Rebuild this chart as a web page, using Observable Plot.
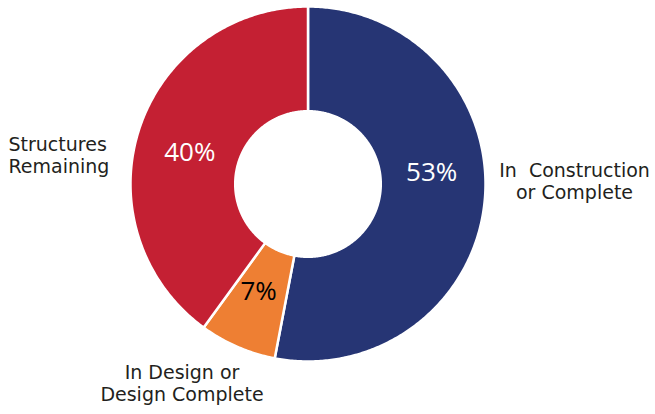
<!DOCTYPE html>
<html><head><meta charset="utf-8">
<script src="https://cdn.jsdelivr.net/npm/d3@7"></script>
<script src="https://cdn.jsdelivr.net/npm/@observablehq/plot@0.6"></script>
<style>body{margin:0;background:#fff}</style>
</head><body><div id="chart"></div>
<script>
const categories = ["In Construction or Complete", "In Design or Design Complete", "Structures Remaining"];
const values = [53, 7, 40];
const percentLabels = ["53%", "7%", "40%"];
const colors = ["#263574", "#ee7f33", "#c42033"];
const percentColors = ["#ffffff", "#000000", "#ffffff"];
const categoryLines = [["In\u00A0 Construction", "or Complete"], ["In Design or", "Design Complete"], ["Structures", "Remaining"]];

// layout
const W = 655, H = 414, cx = 307.5, cy = 183.5, R = 177.5, inner = 0.41;
const toX = px => (px - cx) / R, toY = py => (py - cy) / R;

const rows = categories.map((c, i) => ({category: c, value: values[i], label: percentLabels[i], tc: percentColors[i]}));
const arcs = d3.pie().sort(null).value(d => d.value)(rows);

const pts = [];
arcs.forEach(a => {
  const n = Math.max(8, Math.ceil((a.endAngle - a.startAngle) / 0.01));
  for (let k = 0; k <= n; k++) {
    const t = a.startAngle + (a.endAngle - a.startAngle) * k / n;
    pts.push({category: a.data.category, x: Math.sin(t), y: -Math.cos(t)});
  }
  for (let k = n; k >= 0; k--) {
    const t = a.startAngle + (a.endAngle - a.startAngle) * k / n;
    pts.push({category: a.data.category, x: inner * Math.sin(t), y: -inner * Math.cos(t)});
  }
});

const labelR = 0.7;
const mid = a => (a.startAngle + a.endAngle) / 2;
const pctDy = [-23, -6, 7];
const pctMarks = arcs.map((a, i) => Plot.text([a], {
  x: d => labelR * Math.sin(mid(d)), y: d => -labelR * Math.cos(mid(d)),
  text: d => d.data.label, fill: d => d.data.tc, dy: pctDy[i],
  fontSize: 26, fontFamily: "Open Sans"
}));

// label block placement (pixels): anchor x, first baseline, line step
const namePos = [
  {x: 574, y: 176.5, anchor: "middle"},
  {x: 181.5, y: 378.5, anchor: "middle"},
  {x: 8, y: 150, anchor: "start"}
];
const lineStep = 22.3;
const nameRows = [];
categoryLines.forEach((lines, i) => lines.forEach((t, j) => nameRows.push({i, text: t, x: toX(namePos[i].x), y: toY(namePos[i].y + j * lineStep)})));
const nameMarks = namePos.map((p, i) => Plot.text(nameRows.filter(r => r.i === i), {
  x: "x", y: "y", text: "text", textAnchor: p.anchor, lineAnchor: "bottom",
  fill: "#231f20", fontSize: 19, fontFamily: "DejaVu Sans"
}));

const chart = Plot.plot({
  width: W, height: H, margin: 0,
  x: {domain: [toX(0), toX(W)], range: [0, W], axis: null},
  y: {domain: [toY(0), toY(H)], range: [0, H], axis: null},
  color: {domain: categories, range: colors},
  style: {background: "#fff"},
  marks: [
    Plot.line(pts, {x: "x", y: "y", z: "category", fill: "category", stroke: "#fff", strokeWidth: 2.5, curve: "linear-closed"}),
    ...pctMarks,
    ...nameMarks
  ]
});
document.getElementById("chart").append(chart);
</script>
</body></html>
